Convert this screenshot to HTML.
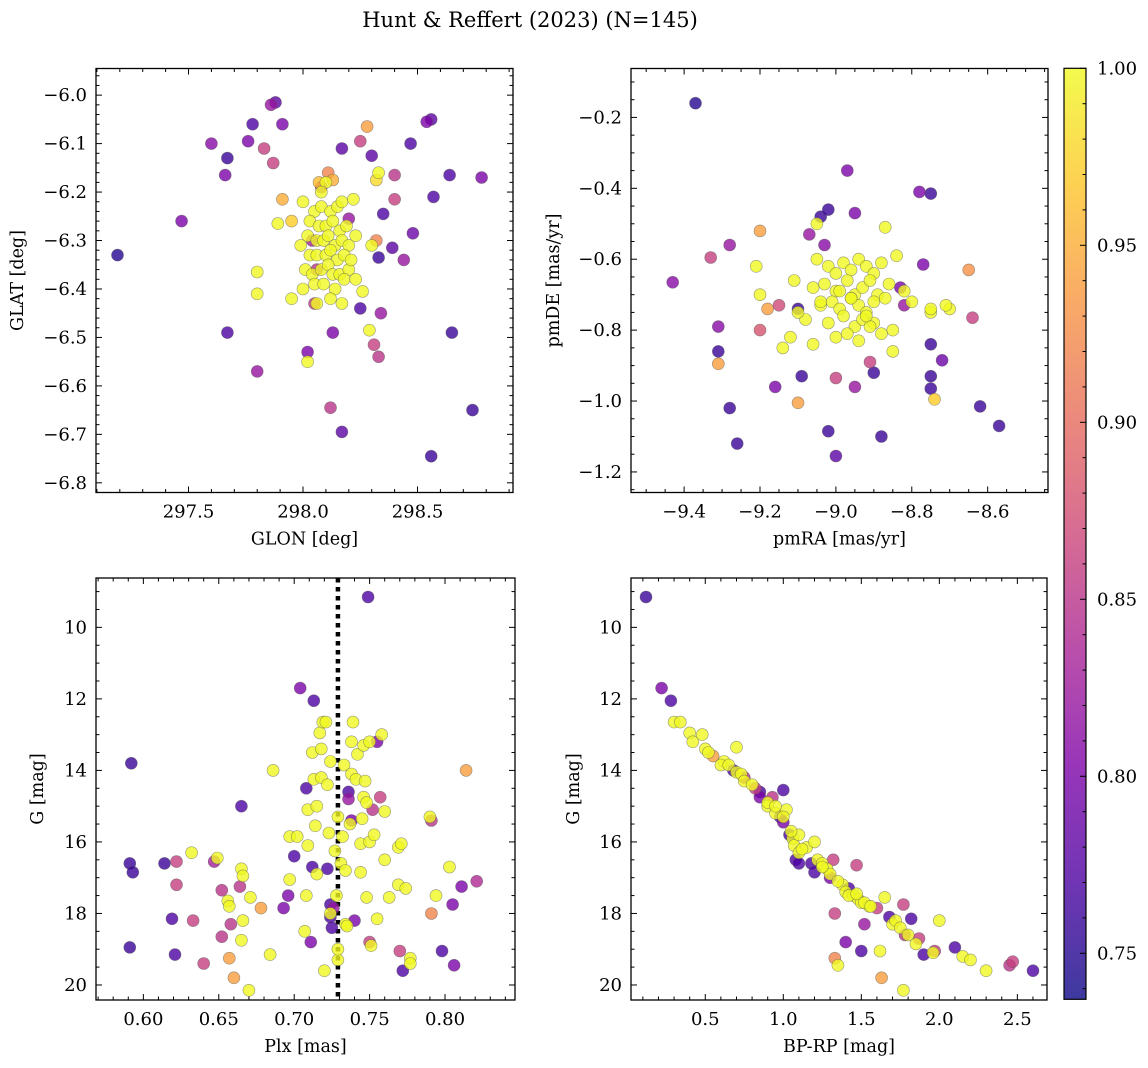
<!DOCTYPE html>
<html><head><meta charset="utf-8">
<style>
html,body{margin:0;padding:0;background:#fff;}
svg{display:block;font-family:"DejaVu Serif","Liberation Serif",serif;}
</style></head>
<body>
<svg id="fig" width="1148" height="1068" viewBox="0 0 1148 1068" xmlns="http://www.w3.org/2000/svg">
<text x="530" y="27" text-anchor="middle" font-size="21">Hunt &amp; Reffert (2023) (N=145)</text>
</svg>
<script>
// ---------- Panel A: GLON / GLAT ----------
const aGlon=[297.19,297.47,297.60,297.67,297.66,297.67,297.76,297.78,297.86,297.88,297.83,297.87,297.91,297.80,297.80,297.80,297.91,297.95,297.89,297.95,298.02,298.02,298.12,298.17,298.13,298.17,298.25,298.28,298.30,298.33,298.32,298.40,298.35,298.40,298.39,298.33,298.32,298.30,298.34,298.31,298.33,298.29,298.25,298.26,298.22,298.20,298.47,298.54,298.56,298.48,298.44,298.57,298.64,298.65,298.74,298.56,298.78,298.11,298.13,298.08,298.07,298.10,298.06,298.05,298.04,
298.0,298.05,298.08,298.12,298.15,298.17,298.03,298.07,298.10,298.13,298.16,298.19,298.02,298.06,298.09,298.11,298.14,298.17,298.20,298.03,298.06,298.10,298.12,298.15,298.18,298.01,298.04,298.08,298.11,298.13,298.16,298.20,298.05,298.09,298.14,298.18,298.23,298.00,298.06,298.12,298.17,298.21,298.23,297.99,298.08];
const aGlat=[-6.33,-6.26,-6.10,-6.13,-6.165,-6.49,-6.095,-6.06,-6.02,-6.015,-6.11,-6.14,-6.06,-6.57,-6.365,-6.41,-6.215,-6.26,-6.265,-6.42,-6.53,-6.55,-6.645,-6.695,-6.49,-6.11,-6.095,-6.065,-6.125,-6.16,-6.175,-6.165,-6.245,-6.215,-6.315,-6.335,-6.30,-6.31,-6.45,-6.515,-6.54,-6.485,-6.44,-6.405,-6.215,-6.255,-6.10,-6.055,-6.05,-6.285,-6.34,-6.21,-6.165,-6.49,-6.65,-6.745,-6.17,-6.16,-6.175,-6.19,-6.18,-6.18,-6.36,-6.43,-6.30,
-6.22,-6.24,-6.23,-6.24,-6.23,-6.22,-6.26,-6.27,-6.27,-6.26,-6.28,-6.27,-6.29,-6.30,-6.30,-6.29,-6.31,-6.30,-6.31,-6.33,-6.33,-6.33,-6.32,-6.34,-6.33,-6.36,-6.37,-6.36,-6.35,-6.37,-6.37,-6.36,-6.39,-6.39,-6.40,-6.38,-6.38,-6.40,-6.43,-6.42,-6.43,-6.34,-6.29,-6.31,-6.20];
const aProb=[0.75,0.80,0.81,0.76,0.80,0.77,0.80,0.77,0.82,0.78,0.86,0.86,0.80,0.82,1.0,1.0,0.95,0.97,1.0,1.0,0.80,1.0,0.85,0.78,0.80,0.78,0.86,0.94,0.78,1.0,0.98,0.85,0.77,0.86,0.78,0.76,0.92,1.0,0.82,0.86,0.85,1.0,0.77,1.0,1.0,0.82,0.77,0.80,0.78,0.79,0.82,0.77,0.77,0.76,0.76,0.76,0.80,0.92,0.95,0.85,0.96,1.0,0.85,0.86,0.83,
1,1,1,1,1,1,1,1,1,1,1,1,1,1,1,1,1,1,1,1,1,1,1,1,1,1,1,1,1,1,1,1,1,1,1,1,1,1,1,1,1,1,1,1,1];

// ---------- Panel B: pmRA / pmDE ----------
const bPmra=[-9.37,-9.43,-9.33,-9.31,-9.31,-9.31,-9.28,-9.28,-9.26,-9.20,-9.18,-9.20,-9.15,-9.16,-9.09,-9.10,-9.04,-9.02,-8.97,-8.95,-9.02,-9.00,-9.00,-8.95,-8.91,-8.90,-8.88,-8.83,-8.82,-8.78,-8.75,-8.77,-8.75,-8.75,-8.75,-8.72,-8.65,-8.64,-8.62,-8.57,-9.07,-9.10,-9.03,
-9.21,-9.20,-9.14,-9.05,-8.87,-8.85,-8.84,-8.75,-8.75,-8.70,-8.71,-8.74,-8.82,-8.80,-9.11,
-9.05,-9.02,-9.00,-8.98,-8.96,-8.94,-8.92,-8.90,-8.88,-9.06,-9.03,-9.00,-8.97,-8.95,-8.93,-8.91,-8.89,-8.86,-9.04,-9.01,-8.99,-8.96,-8.94,-8.92,-8.90,-8.87,-9.08,-9.02,-8.98,-8.95,-8.93,-8.90,-8.85,-9.12,-9.10,-9.06,-9.00,-8.97,-8.94,-8.91,-8.88,-8.96,-8.99,-9.04,-8.92];
const bPmde=[-0.16,-0.665,-0.595,-0.79,-0.86,-0.895,-0.56,-1.02,-1.12,-0.52,-0.74,-0.80,-0.73,-0.96,-0.93,-1.005,-0.48,-0.46,-0.35,-0.47,-1.085,-1.155,-0.935,-0.96,-0.89,-0.92,-1.10,-0.68,-0.73,-0.41,-0.415,-0.615,-0.84,-0.93,-0.965,-0.885,-0.63,-0.765,-1.015,-1.07,-0.53,-0.74,-0.56,
-0.62,-0.70,-0.85,-0.50,-0.51,-0.86,-0.59,-0.75,-0.74,-0.74,-0.73,-0.995,-0.69,-0.72,-0.66,
-0.60,-0.62,-0.64,-0.61,-0.63,-0.60,-0.62,-0.64,-0.61,-0.68,-0.67,-0.69,-0.66,-0.70,-0.68,-0.66,-0.70,-0.67,-0.73,-0.72,-0.74,-0.71,-0.73,-0.75,-0.72,-0.71,-0.77,-0.78,-0.76,-0.79,-0.77,-0.78,-0.80,-0.82,-0.75,-0.84,-0.82,-0.81,-0.83,-0.79,-0.81,-0.71,-0.69,-0.72,-0.76];
const bProb=[0.75,0.81,0.86,0.81,0.76,0.94,0.82,0.76,0.76,0.94,0.94,0.88,0.87,0.80,0.76,0.94,0.76,0.76,0.80,0.80,0.76,0.78,0.86,0.82,0.86,0.76,0.76,0.80,0.82,0.80,0.76,0.80,0.76,0.76,0.76,0.79,0.93,0.86,0.76,0.76,0.82,0.76,0.81,
1,1,1,1,1,1,1,1,1,1,1,0.97,1,1,1,
1,1,1,1,1,1,1,1,1,1,1,1,1,1,1,1,1,1,1,1,1,1,1,1,1,1,1,1,1,1,1,1,1,1,1,1,1,1,1,1,1,1,1,1,1];

// ---------- Panel C: Plx / G ----------
const cPlx=[0.592,0.591,0.593,0.591,0.614,0.622,0.619,0.621,0.622,0.633,0.640,0.632,0.647,0.649,0.652,0.652,0.656,0.657,0.657,0.658,0.660,0.665,0.666,0.664,0.666,0.665,0.665,0.670,0.671,0.678,0.684,0.686,0.693,0.696,0.697,0.697,0.700,0.702,0.704,0.707,0.708,0.708,0.709,0.709,0.711,0.712,0.713,0.712,0.713,0.714,0.715,0.715,0.717,0.718,0.718,0.719,0.720,0.721,0.722,0.722,0.723,0.724,0.724,0.725,0.724,0.726,0.724,0.727,0.728,0.729,0.729,0.729,0.731,0.732,0.733,0.734,0.734,0.735,0.736,0.736,0.737,0.738,0.738,0.739,0.738,0.740,0.741,0.742,0.744,0.745,0.744,0.746,0.746,0.747,0.748,0.748,0.749,0.750,0.750,0.750,0.751,0.752,0.753,0.755,0.755,0.757,0.758,0.760,0.760,0.763,0.769,0.769,0.770,0.771,0.772,0.774,0.777,0.777,0.790,0.791,0.791,0.794,0.798,0.803,0.805,0.806,0.811,0.814,0.821];
const cG=[13.8,16.6,16.85,18.95,16.6,16.55,18.15,19.15,17.2,18.2,19.4,16.3,16.55,16.45,17.35,18.65,17.65,17.8,19.25,18.3,19.8,16.75,16.95,17.25,18.2,18.75,15.0,20.15,17.55,17.85,19.15,14.0,17.85,17.5,17.05,15.85,16.4,15.85,11.7,18.5,17.5,14.5,15.1,16.1,18.8,16.7,14.25,13.5,12.05,15.55,16.9,15.0,12.95,14.2,13.4,12.65,19.6,12.65,14.4,16.75,15.75,17.75,18.1,18.4,18.0,17.85,13.75,16.25,17.5,19.3,19.0,15.3,16.6,15.85,13.85,16.8,18.3,18.35,14.6,14.8,15.5,13.2,14.1,12.65,15.4,18.2,14.25,13.55,16.05,15.35,16.85,13.3,14.75,14.3,14.9,17.55,9.15,13.2,16.0,18.8,18.9,15.1,15.8,13.2,18.15,14.75,13.0,15.15,16.5,17.55,17.2,16.15,19.05,16.05,19.6,17.3,19.25,19.4,15.3,15.4,18.0,17.5,19.05,16.7,17.75,19.45,17.25,14.0,17.1];
const cProb=[0.76,0.76,0.76,0.76,0.76,0.86,0.77,0.77,0.86,0.86,0.86,1.0,0.83,1.0,0.85,0.85,1.0,1.0,0.94,0.85,0.94,1.0,1.0,0.85,1.0,1.0,0.77,1.0,1.0,0.94,1.0,1.0,0.80,0.80,1.0,1.0,0.77,1.0,0.80,1.0,1.0,0.77,1.0,1.0,0.80,0.77,1.0,1.0,0.77,1.0,1.0,1.0,1.0,1.0,1.0,1.0,1.0,1.0,1.0,0.77,1.0,0.77,0.77,0.77,1.0,0.82,1.0,1.0,1.0,1.0,1.0,1.0,1.0,1.0,1.0,1.0,1.0,1.0,0.77,0.82,1.0,1.0,1.0,1.0,0.80,0.80,1.0,1.0,1.0,1.0,1.0,1.0,1.0,1.0,1.0,1.0,0.77,1.0,1.0,0.86,1.0,0.85,1.0,0.80,1.0,0.86,1.0,1.0,1.0,1.0,1.0,1.0,0.86,1.0,0.77,1.0,1.0,1.0,1.0,0.85,0.92,1.0,0.77,1.0,0.80,0.80,0.80,0.94,0.84];
const cPlxRef=[0.729];

// ---------- Panel D: BP-RP / G ----------
const dBprp=[0.12,0.22,0.28,0.30,0.34,0.40,0.42,0.48,0.50,0.52,0.55,0.62,0.60,0.65,0.68,0.70,0.70,0.73,0.75,0.75,0.80,0.82,0.85,0.85,0.90,0.93,0.95,0.98,1.00,1.00,1.02,1.04,1.06,1.07,1.08,1.10,1.10,1.15,1.18,1.20,1.20,1.22,1.25,1.28,1.30,1.32,1.33,1.33,1.35,1.38,1.40,1.40,1.42,1.45,1.47,1.48,1.50,1.50,1.52,1.55,1.60,1.62,1.63,1.65,1.68,1.70,1.72,1.75,1.77,1.78,1.77,1.80,1.82,1.85,1.87,1.90,1.96,1.97,2.00,2.10,2.15,2.20,2.30,2.45,2.47,2.60,1.10,1.30,1.35,1.42,1.47,1.52,1.56,0.90,0.95,1.00,1.05,1.12,1.25];
const dG=[9.15,11.7,12.05,12.65,12.65,12.95,13.2,13.0,13.4,13.5,13.6,13.75,13.85,13.85,14.0,13.35,14.05,14.1,14.2,14.3,14.4,14.5,14.75,14.6,15.0,14.75,15.2,15.3,14.55,15.45,15.1,15.8,15.9,16.1,16.5,16.6,16.3,16.15,16.6,16.85,16.0,16.5,16.6,16.75,17.0,16.5,18.0,19.25,19.45,17.2,17.4,18.8,17.3,17.5,16.65,17.6,17.7,19.05,18.3,17.8,17.85,19.05,19.8,17.55,18.1,18.3,18.2,18.4,17.75,18.6,20.15,18.6,18.15,18.85,18.7,19.15,19.1,19.05,18.2,18.95,19.2,19.3,19.6,19.45,19.35,19.6,15.8,16.9,17.1,17.5,17.45,17.7,17.8,14.9,15.0,15.3,15.7,16.2,16.7];
const dProb=[0.76,0.80,0.77,1,1,1,1,1,1,1,0.94,1,1,1,0.77,1,1,1,0.85,1,1,0.86,0.80,0.77,1,0.85,1,0.77,0.77,0.80,1,0.77,1,1,0.77,0.77,1,1,0.77,0.77,1,1,1,1,0.80,0.86,0.86,0.92,1,1,1,0.80,0.77,1,0.86,1,1,0.77,0.82,1,0.86,1,0.94,1,0.77,1,1,1,0.86,0.85,1,1,0.77,1,0.86,0.77,1,0.86,1,0.77,1,1,1,0.85,0.86,0.77,1,1,1,1,1,1,1,1,1,1,1,1,1];

// colorbar ticks
const cbTicks=[0.75,0.80,0.85,0.90,0.95,1.00];
const cbLabels=["0.75","0.80","0.85","0.90","0.95","1.00"];
const vmin=0.737, vmax=1.0;

const NS="http://www.w3.org/2000/svg";
const fig=document.getElementById('fig');
function mk(tag,attrs,parent){const e=document.createElementNS(NS,tag);for(const k in attrs)e.setAttribute(k,attrs[k]);(parent||fig).appendChild(e);return e;}

const stops=[[13,8,135],[76,2,161],[126,3,168],[169,35,149],[204,71,120],[230,108,92],[248,149,64],[253,197,39],[240,249,33]];
function plasma(t){t=Math.max(0,Math.min(1,t));const f=t*8;const i=Math.min(7,Math.floor(f));const r=f-i;const a=stops[i],b=stops[i+1];
 return 'rgb('+[0,1,2].map(k=>Math.round(a[k]+(b[k]-a[k])*r)).join(',')+')';}
function cmap(p){return plasma((p-vmin)/(vmax-vmin));}

function fmt(v,d){let s=Math.abs(v).toFixed(d);return (v<-1e-9?'\u2212':'')+s;}

const TICKFS=18, LABFS=17.5;

function panel(o){
 const g=mk('g',{});
 
 
 const sx=v=>o.x0+(v-o.xmin)/(o.xmax-o.xmin)*(o.x1-o.x0);
 const sy=o.yinv? (v=>o.y0+(v-o.ymin)/(o.ymax-o.ymin)*(o.y1-o.y0)) : (v=>o.y1-(v-o.ymin)/(o.ymax-o.ymin)*(o.y1-o.y0));
 if(o.vline){o.vline.forEach(v=>{const l=mk('line',{x1:sx(v),x2:sx(v),y1:o.y0,y2:o.y1,stroke:'#000','stroke-width':4.5,'stroke-dasharray':'4.5,4.5'},g);
   
   });}
 const idx=o.xs.map((_,i)=>i).sort((a,b)=>o.cs[a]-o.cs[b]);
 const pg=mk('g',{},g);
 
 
 idx.forEach(i=>{const c=mk('circle',{cx:sx(o.xs[i]).toFixed(1),cy:sy(o.ys[i]).toFixed(1),r:6,fill:cmap(o.cs[i]),'fill-opacity':0.8,stroke:'#555','stroke-opacity':0.6,'stroke-width':0.6},pg);
   
   });
 const fr=mk('rect',{x:o.x0,y:o.y0,width:o.x1-o.x0,height:o.y1-o.y0,fill:'none',stroke:'#000','stroke-width':1.3},g);
 
 
 const eps=1e-9;
 const xa=mk('g',{},g);
 
 
 let start=Math.ceil(o.xmin/o.xminor-eps);
 for(let k=start;k*o.xminor<=o.xmax+eps;k++){const v=k*o.xminor;const maj=Math.abs(v/o.xmajor-Math.round(v/o.xmajor))<1e-6;const L=maj?6:3.5;const X=sx(v);
  mk('line',{x1:X,x2:X,y1:o.y1,y2:o.y1-L,stroke:'#000','stroke-width':1},xa);
  mk('line',{x1:X,x2:X,y1:o.y0,y2:o.y0+L,stroke:'#000','stroke-width':1},xa);
  if(maj){const t=mk('text',{x:X,y:o.y1+25,'text-anchor':'middle','font-size':TICKFS},xa);t.textContent=fmt(v,o.xdec);
   
   }}
 const ya=mk('g',{},g);
 
 
 start=Math.ceil(o.ymin/o.yminor-eps);
 for(let k=start;k*o.yminor<=o.ymax+eps;k++){const v=k*o.yminor;const maj=Math.abs(v/o.ymajor-Math.round(v/o.ymajor))<1e-6;const L=maj?6:3.5;const Y=sy(v);
  mk('line',{x1:o.x0,x2:o.x0+L,y1:Y,y2:Y,stroke:'#000','stroke-width':1},ya);
  mk('line',{x1:o.x1,x2:o.x1-L,y1:Y,y2:Y,stroke:'#000','stroke-width':1},ya);
  if(maj){const t=mk('text',{x:o.x0-9,y:Y+6,'text-anchor':'end','font-size':TICKFS},ya);t.textContent=fmt(v,o.ydec);
   
   }}
 const xl=mk('text',{x:(o.x0+o.x1)/2,y:o.y1+52,'text-anchor':'middle','font-size':LABFS},g);xl.textContent=o.xlabel;
 
 
 const yx=o.ylabx, yc=(o.y0+o.y1)/2;
 const yl=mk('text',{x:yx,y:yc,'text-anchor':'middle','font-size':LABFS,transform:'rotate(-90 '+yx+' '+yc+')'},g);yl.textContent=o.ylabel;
 
 
}

panel({name:'glon-glat-panel',x0:96,x1:513,y0:68.5,y1:492.5,xmin:297.096,xmax:298.917,ymin:-6.82,ymax:-5.945,xmajor:0.5,xminor:0.1,ymajor:0.1,yminor:0.02,xdec:1,ydec:1,xs:aGlon,ys:aGlat,cs:aProb,xlabel:'GLON [deg]',ylabel:'GLAT [deg]',ylabx:23});
panel({name:'pm-panel',x0:631,x1:1048,y0:68.5,y1:492.5,xmin:-9.540,xmax:-8.441,ymin:-1.258,ymax:-0.062,xmajor:0.2,xminor:0.05,ymajor:0.2,yminor:0.05,xdec:1,ydec:1,xs:bPmra,ys:bPmde,cs:bProb,xlabel:'pmRA [mas/yr]',ylabel:'pmDE [mas/yr]',ylabx:559});
panel({name:'plx-g-panel',x0:96,x1:515,y0:578,y1:1000,xmin:0.5686,xmax:0.8464,ymin:8.62,ymax:20.42,yinv:true,xmajor:0.05,xminor:0.01,ymajor:2,yminor:0.5,xdec:2,ydec:0,xs:cPlx,ys:cG,cs:cProb,xlabel:'Plx [mas]',ylabel:'G [mag]',ylabx:43,vline:cPlxRef});
panel({name:'cmd-panel',x0:631,x1:1047,y0:578,y1:1000,xmin:0.024,xmax:2.69,ymin:8.62,ymax:20.42,yinv:true,xmajor:0.5,xminor:0.1,ymajor:2,yminor:0.5,xdec:1,ydec:0,xs:dBprp,ys:dG,cs:dProb,xlabel:'BP-RP [mag]',ylabel:'G [mag]',ylabx:579});

(function(){
 const x0=1064,x1=1086,y0=68.3,y1=999.3;
 const g=mk('g',{});
 
 
 const defs=mk('defs',{},g);
 const lg=mk('linearGradient',{id:'cbg',x1:0,y1:1,x2:0,y2:0},defs);
 for(let i=0;i<=16;i++){mk('stop',{offset:i/16,'stop-color':plasma(i/16)},lg);}
 mk('rect',{x:x0,y:y0,width:x1-x0,height:y1-y0,fill:'url(#cbg)','fill-opacity':0.8},g);
 const fr=mk('rect',{x:x0,y:y0,width:x1-x0,height:y1-y0,fill:'none',stroke:'#000','stroke-width':1.2},g);
 
 
 const sy=v=>y1-(v-vmin)/(vmax-vmin)*(y1-y0);
 for(let k=74;k<=100;k++){const v=k/100;const Y=sy(v);const maj=k%5===0;
  mk('line',{x1:x1,x2:x1-(maj?6:3.5),y1:Y,y2:Y,stroke:'#000','stroke-width':1},g);}
 cbTicks.forEach((v,i)=>{const t=mk('text',{x:x1+11,y:sy(v)+6,'font-size':TICKFS},g);t.textContent=cbLabels[i];
  
  });
})();
</script>
</body></html>
